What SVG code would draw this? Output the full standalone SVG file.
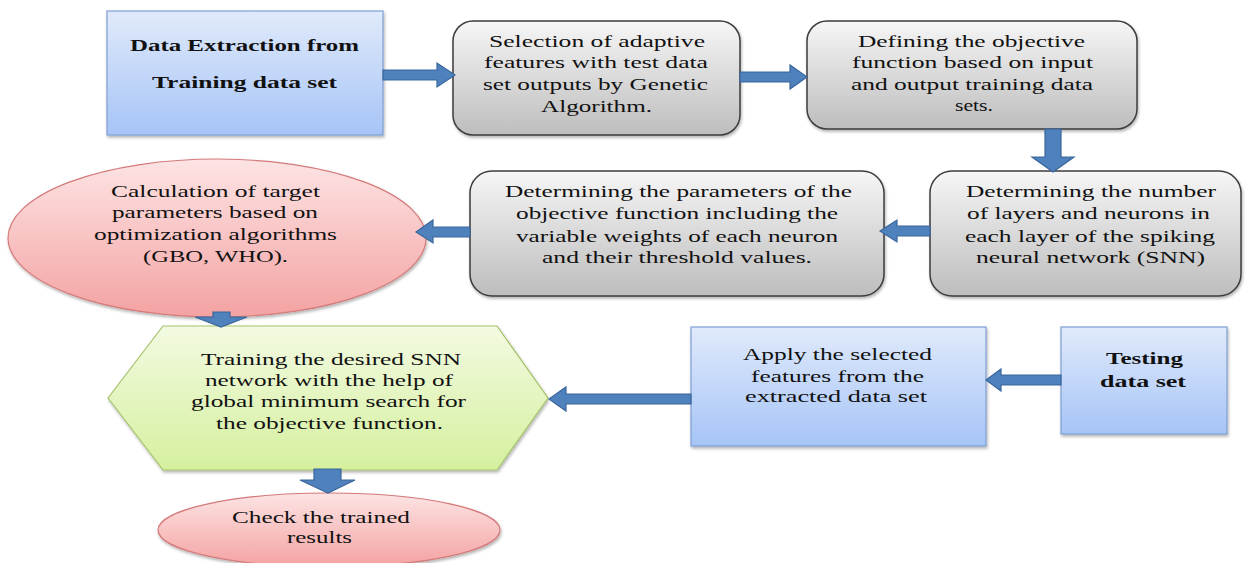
<svg xmlns="http://www.w3.org/2000/svg" width="1247" height="563" viewBox="0 0 1247 563">
<defs>
<linearGradient id="gBlue" x1="0" y1="0" x2="0" y2="1"><stop offset="0" stop-color="#e0eafb"/><stop offset="1" stop-color="#a6c4f6"/></linearGradient>
<linearGradient id="gGray" x1="0" y1="0" x2="0" y2="1"><stop offset="0" stop-color="#f6f6f6"/><stop offset="1" stop-color="#bdbdbd"/></linearGradient>
<linearGradient id="gPink" x1="0" y1="0" x2="0" y2="1"><stop offset="0" stop-color="#fde4e4"/><stop offset="1" stop-color="#f4a2a2"/></linearGradient>
<linearGradient id="gGreen" x1="0" y1="0" x2="0" y2="1"><stop offset="0" stop-color="#f3fae2"/><stop offset="1" stop-color="#d5f09e"/></linearGradient>
<filter id="sh" x="-5%" y="-5%" width="110%" height="115%"><feDropShadow dx="1" dy="2" stdDeviation="1.5" flood-color="#000" flood-opacity="0.3"/></filter>
</defs>
<style>
.blue{fill:url(#gBlue);stroke:#7f9fd4;stroke-width:1.2;filter:url(#sh)}
.gray{fill:url(#gGray);stroke:#3d3d3d;stroke-width:1.5;filter:url(#sh)}
.pink{fill:url(#gPink);stroke:#d47a7a;stroke-width:1.2;filter:url(#sh)}
.green{fill:url(#gGreen);stroke:#a5c26a;stroke-width:1.2;filter:url(#sh)}
.arr{fill:#4f81bd;stroke:#3a679c;stroke-width:1.2}
text{font-family:"Liberation Serif","Times New Roman",serif;font-size:17px;fill:#111;text-anchor:middle}
.b{font-weight:bold}
</style>
<g id="n1">
<rect class="blue" x="107" y="11" width="276" height="124"/>
<text class="b" x="244.5" y="51" textLength="229" lengthAdjust="spacingAndGlyphs">Data Extraction from</text>
<text class="b" x="244.5" y="88" textLength="185" lengthAdjust="spacingAndGlyphs">Training data set</text>
</g>
<g id="n2">
<rect class="gray" x="453" y="21" width="287" height="114" rx="20"/>
<text x="597" y="47" textLength="216" lengthAdjust="spacingAndGlyphs">Selection of adaptive</text>
<text x="596" y="68" textLength="224" lengthAdjust="spacingAndGlyphs">features with test data</text>
<text x="595.5" y="90" textLength="225" lengthAdjust="spacingAndGlyphs">set outputs by Genetic</text>
<text x="596.5" y="112" textLength="111" lengthAdjust="spacingAndGlyphs">Algorithm.</text>
</g>
<g id="n3">
<rect class="gray" x="807" y="21" width="330" height="108" rx="20"/>
<text x="971.5" y="47" textLength="227" lengthAdjust="spacingAndGlyphs">Defining the objective</text>
<text x="972.5" y="68" textLength="241" lengthAdjust="spacingAndGlyphs">function based on input</text>
<text x="972" y="90" textLength="242" lengthAdjust="spacingAndGlyphs">and output training data</text>
<text x="974" y="111" textLength="38" lengthAdjust="spacingAndGlyphs">sets.</text>
</g>
<g id="n4">
<rect class="gray" x="930" y="171" width="311" height="125" rx="22"/>
<text x="1091" y="197" textLength="250" lengthAdjust="spacingAndGlyphs">Determining the number</text>
<text x="1088.5" y="219" textLength="243" lengthAdjust="spacingAndGlyphs">of layers and neurons in</text>
<text x="1090" y="242" textLength="250" lengthAdjust="spacingAndGlyphs">each layer of the spiking</text>
<text x="1090.5" y="263" textLength="229" lengthAdjust="spacingAndGlyphs">neural network (SNN)</text>
</g>
<g id="n5">
<rect class="gray" x="470" y="171" width="414" height="125" rx="22"/>
<text x="678.5" y="197" textLength="347" lengthAdjust="spacingAndGlyphs">Determining the parameters of the</text>
<text x="677" y="219" textLength="322" lengthAdjust="spacingAndGlyphs">objective function including the</text>
<text x="677" y="242" textLength="322" lengthAdjust="spacingAndGlyphs">variable weights of each neuron</text>
<text x="677" y="263" textLength="270" lengthAdjust="spacingAndGlyphs">and their threshold values.</text>
</g>
<g id="n6">
<ellipse class="pink" cx="217" cy="238" rx="209" ry="79"/>
<text x="215.5" y="197" textLength="209" lengthAdjust="spacingAndGlyphs">Calculation of target</text>
<text x="215" y="218" textLength="206" lengthAdjust="spacingAndGlyphs">parameters based on</text>
<text x="215.5" y="240" textLength="243" lengthAdjust="spacingAndGlyphs">optimization algorithms</text>
<text x="215.5" y="262" textLength="145" lengthAdjust="spacingAndGlyphs">(GBO, WHO).</text>
</g>
<g id="n7">
<polygon class="green" points="108,398 163,326 497,326 548,398 497,470 163,470"/>
<text x="331" y="365" textLength="260" lengthAdjust="spacingAndGlyphs">Training the desired SNN</text>
<text x="329" y="386" textLength="248" lengthAdjust="spacingAndGlyphs">network with the help of</text>
<text x="328.5" y="407" textLength="275" lengthAdjust="spacingAndGlyphs">global minimum search for</text>
<text x="329.5" y="429" textLength="227" lengthAdjust="spacingAndGlyphs">the objective function.</text>
</g>
<g id="n8">
<rect class="blue" x="691" y="327" width="295" height="119"/>
<text x="837.5" y="360" textLength="189" lengthAdjust="spacingAndGlyphs">Apply the selected</text>
<text x="837.5" y="382" textLength="173" lengthAdjust="spacingAndGlyphs">features from the</text>
<text x="836" y="402" textLength="182" lengthAdjust="spacingAndGlyphs">extracted data set</text>
</g>
<g id="n9">
<rect class="blue" x="1061" y="327" width="166" height="107"/>
<text class="b" x="1144.5" y="364" textLength="77" lengthAdjust="spacingAndGlyphs">Testing</text>
<text class="b" x="1143" y="387" textLength="86" lengthAdjust="spacingAndGlyphs">data set</text>
</g>
<g id="n10">
<ellipse class="pink" cx="329" cy="530" rx="171" ry="37"/>
<text x="321" y="523" textLength="178" lengthAdjust="spacingAndGlyphs">Check the trained</text>
<text x="319.5" y="543" textLength="65" lengthAdjust="spacingAndGlyphs">results</text>
</g>
<g id="connectors">
<polygon class="arr" points="383,70 437,70 437,63 455,75 437,87 437,80 383,80"/>
<polygon class="arr" points="740,72 790,72 790,65 807,77 790,89 790,82 740,82"/>
<polygon class="arr" points="1045,129 1061,129 1061,157 1074,157 1053,172 1032,157 1045,157"/>
<polygon class="arr" points="930,226 897,226 897,220 880,231 897,242 897,236 930,236"/>
<polygon class="arr" points="470,227 433,227 433,220 416,232 433,243 433,237 470,237"/>
<polygon class="arr" points="213,312 230,312 230,317 247,317 221,327 195,317 213,317"/>
<polygon class="arr" points="314,469 341,469 341,480 355,480 328,493 300,480 314,480"/>
<polygon class="arr" points="1061,375 1001,375 1001,369 986,380 1001,391 1001,385 1061,385"/>
<polygon class="arr" points="691,394 566,394 566,387 549,399 566,411 566,404 691,404"/>
</g>
</svg>
